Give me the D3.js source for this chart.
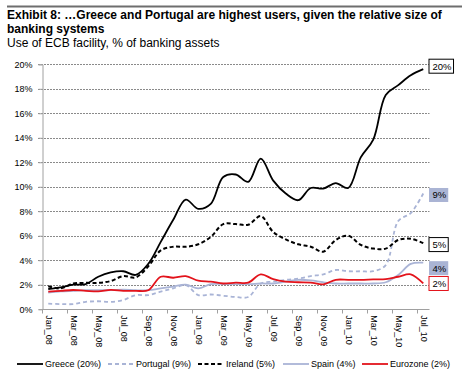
<!DOCTYPE html>
<html><head><meta charset="utf-8">
<script src="https://cdn.jsdelivr.net/npm/d3@7/dist/d3.min.js"></script>
<style>body{margin:0;background:#fff;} svg{display:block;font-family:"Liberation Sans",Arial,sans-serif;}</style>
</head><body><svg id="c" width="462" height="383"></svg>
<script>
// ---- data ----
const months = ["Jan_08","Feb_08","Mar_08","Apr_08","May_08","Jun_08","Jul_08","Aug_08","Sep_08","Oct_08","Nov_08","Dec_08",
 "Jan_09","Feb_09","Mar_09","Apr_09","May_09","Jun_09","Jul_09","Aug_09","Sep_09","Oct_09","Nov_09","Dec_09",
 "Jan_10","Feb_10","Mar_10","Apr_10","May_10","Jun_10","Jul_10"];
const tickLabels = ["Jan_08","Mar_08","May_08","Jul_08","Sep_08","Nov_08","Jan_09","Mar_09","May_09","Jul_09","Sep_09","Nov_09","Jan_10","Mar_10","May_10","Jul_10"];
const yTicks = [0,2,4,6,8,10,12,14,16,18,20];
const greece   = [1.65,1.78,2.0,2.05,2.65,3.0,3.1,2.8,3.7,5.5,7.3,8.95,8.2,8.6,10.8,11.0,10.4,12.3,10.5,9.45,8.9,9.9,9.85,10.3,9.9,12.4,13.85,17.5,18.3,19.1,19.6];
const portugal = [0.45,0.42,0.42,0.6,0.65,0.6,0.75,1.15,1.15,1.43,1.7,1.97,1.15,1.2,1.1,1.0,1.0,2.1,2.25,2.4,2.5,2.7,2.85,3.2,3.1,3.1,3.1,3.6,7.2,7.85,9.45];
const ireland  = [1.88,1.7,2.1,2.15,2.15,2.3,2.7,2.6,3.5,4.8,5.1,5.1,5.3,5.9,6.95,6.95,6.9,7.6,6.3,5.7,5.3,5.1,4.7,5.65,6.0,5.25,4.95,4.95,5.65,5.75,5.4];
const spain    = [1.35,1.45,1.5,1.55,1.55,1.55,1.6,1.55,1.55,1.7,1.85,2.0,1.7,2.05,2.05,2.05,2.05,2.1,2.1,2.25,2.4,2.35,2.2,2.1,2.1,2.1,2.1,2.2,2.8,3.7,3.8];
const eurozone = [1.43,1.5,1.57,1.5,1.45,1.57,1.5,1.5,1.55,2.65,2.57,2.7,2.33,2.25,2.1,2.17,2.17,2.85,2.45,2.25,2.2,2.17,2.03,2.4,2.4,2.4,2.43,2.45,2.65,2.85,2.1];
const seriesNames = ["Greece (20%)","Portugal (9%)","Ireland (5%)","Spain (4%)","Eurozone (2%)"];
const endLabels = ["20%","9%","5%","4%","2%"];

// ---- layout ----
const svg = d3.select("#c");
const L = 42, R = 429.5, T = 64.3, B = 309.2;
const x = d3.scaleBand().domain(months).range([L,R]).paddingInner(0).paddingOuter(0);
const cx = m => x(m) + x.bandwidth()/2;
const y = d3.scaleLinear().domain([0,20]).range([B,T]);

// top rule
svg.append("line").attr("x1",7).attr("x2",462).attr("y1",6.5).attr("y2",6.5).attr("stroke","#6e6e6e").attr("stroke-width",2);
// titles
svg.append("text").attr("x",7).attr("y",19).attr("font-size",12).attr("font-weight","bold")
  .text("Exhibit 8: …Greece and Portugal are highest users, given the relative size of");
svg.append("text").attr("x",7).attr("y",33).attr("font-size",12).attr("font-weight","bold").text("banking systems");
svg.append("text").attr("x",7).attr("y",47).attr("font-size",12).text("Use of ECB facility, % of banking assets");

// gridlines
svg.append("g").selectAll("line").data(yTicks.filter(d=>d>0)).join("line")
  .attr("x1",L-4).attr("x2",R).attr("y1",d=>Math.round(y(d))+0.5).attr("y2",d=>Math.round(y(d))+0.5)
  .attr("stroke","#8a8a8a").attr("stroke-width",1).attr("stroke-dasharray","2,1");

// y axis
const yAxis = d3.axisLeft(y).tickValues(yTicks).tickFormat(d=>d+"%").tickSize(4).tickPadding(6);
const gy = svg.append("g").attr("transform",`translate(${L+0.5},0)`).call(yAxis);
gy.select(".domain").attr("stroke","#a0a0a0");
gy.selectAll(".tick line").attr("stroke","#a0a0a0");
gy.selectAll(".tick text").attr("font-size",9).attr("fill","#000").attr("font-family","Liberation Sans, Arial, sans-serif");

// x axis
const tickPos = tickLabels.map(m=>x(m));
const gx = svg.append("g");
gx.append("line").attr("x1",L).attr("x2",R).attr("y1",Math.round(B)+0.5).attr("y2",Math.round(B)+0.5).attr("stroke","#a0a0a0");
gx.selectAll("line.t").data(tickPos).join("line").attr("class","t")
  .attr("x1",d=>Math.round(d)+0.5).attr("x2",d=>Math.round(d)+0.5).attr("y1",Math.round(B)+0.5).attr("y2",Math.round(B)+4.5).attr("stroke","#a0a0a0");
gx.selectAll("text").data(tickLabels).join("text")
  .attr("transform",d=>`translate(${cx(d)},${B+6}) rotate(90)`)
  .attr("font-size",9).attr("dominant-baseline","middle").attr("text-anchor","start").text(d=>d);

// lines
const line = d3.line().x((d,i)=>cx(months[i])).y(d=>y(d)).curve(d3.curveCatmullRom.alpha(0.5));
const styles = [
  {data:greece,   color:"#000000", dash:null,  w:1.8},
  {data:portugal, color:"#a9b4d6", dash:"4,3", w:1.8},
  {data:ireland,  color:"#000000", dash:"4,2.5", w:2},
  {data:spain,    color:"#aab4d6", dash:null,  w:1.8},
  {data:eurozone, color:"#e3131b", dash:null,  w:1.8}
];
styles.forEach(s=>{
  svg.append("path").datum(s.data).attr("d",line).attr("fill","none")
    .attr("stroke",s.color).attr("stroke-width",s.w).attr("stroke-dasharray",s.dash);
});

// end labels
const boxStyle = [
  {fill:"#fff", stroke:"#000", nudge:-3},
  {fill:"#aab4d4", stroke:"none", nudge:1.5},
  {fill:"#fff", stroke:"#000", nudge:1.5},
  {fill:"#aab4d4", stroke:"none", nudge:5.5},
  {fill:"#fff", stroke:"#e3131b", nudge:0}
];
styles.forEach((s,k)=>{
  const last = s.data[s.data.length-1];
  const yc = y(last) + boxStyle[k].nudge;
  const g = svg.append("g");
  const t = g.append("text").attr("x",R+3).attr("y",yc).attr("font-size",9.5)
    .attr("dominant-baseline","central").text(endLabels[k]);
  const w = t.node().getComputedTextLength();
  g.insert("rect","text").attr("x",R-0.5).attr("y",yc-7).attr("width",w+5.5).attr("height",14)
    .attr("fill",boxStyle[k].fill).attr("stroke",boxStyle[k].stroke).attr("stroke-width",1);
});

// legend
const legX = [17,108,198,283,362];
const lg = svg.append("g");
styles.forEach((s,k)=>{
  lg.append("line").attr("x1",legX[k]).attr("x2",legX[k]+26).attr("y1",364).attr("y2",364)
    .attr("stroke",s.color).attr("stroke-width",s.w).attr("stroke-dasharray",s.dash);
  lg.append("text").attr("x",legX[k]+28).attr("y",364).attr("dominant-baseline","central")
    .attr("font-size",9).text(seriesNames[k]);
});
</script></body></html>
